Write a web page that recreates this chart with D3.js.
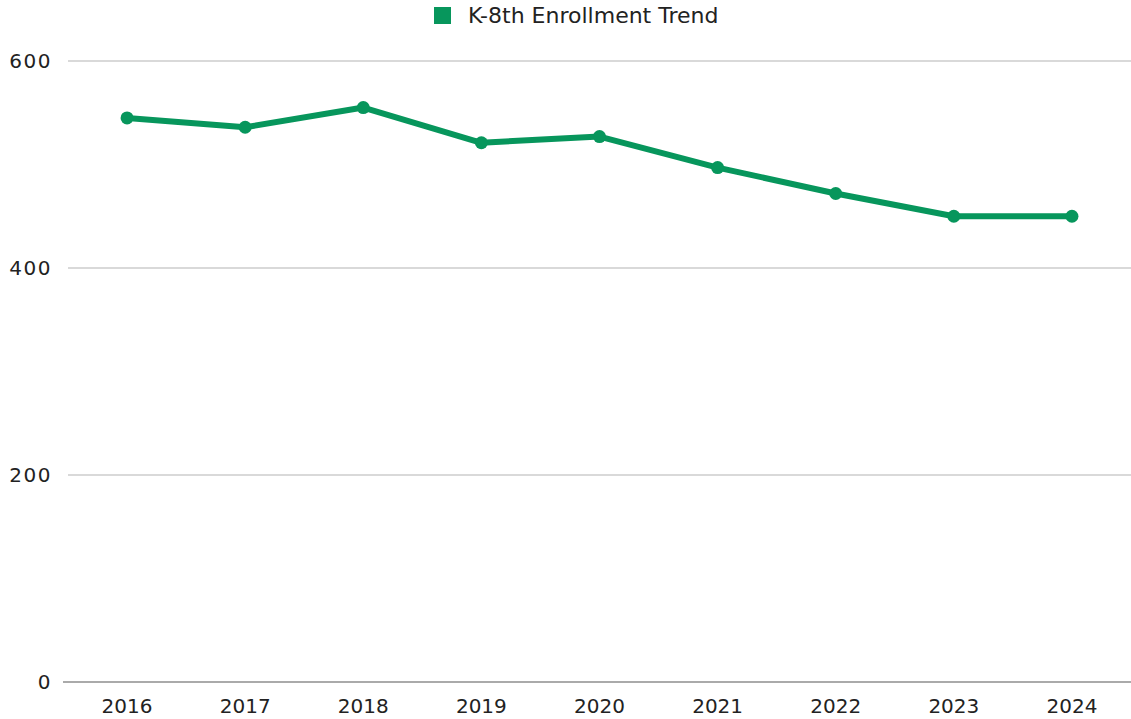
<!DOCTYPE html>
<html>
<head>
<meta charset="utf-8">
<script src="https://cdn.jsdelivr.net/npm/d3@7"></script>
<style>
  body { margin: 0; background: #fff; }
  svg text { font-family: "DejaVu Sans", sans-serif; fill: #222; }
</style>
</head>
<body>
<script>
var years = ['2016', '2017', '2018', '2019', '2020', '2021', '2022', '2023', '2024'];
var enrollment = [545, 536, 555, 521, 527, 497, 472, 450, 450];
var yTicks = [0, 200, 400, 600];
var seriesName = 'K-8th Enrollment Trend';

var width = 1131;
var height = 719;
var color = '#07965c';

var svg = d3.select('body').append('svg').attr('width', width).attr('height', height);

var x = d3.scaleBand().domain(years).range([68, 1131]);
var y = d3.scaleLinear().domain([0, 600]).range([682, 61]);

// gridlines
svg
  .append('g')
  .selectAll('line')
  .data(yTicks)
  .enter()
  .append('line')
  .attr('x1', function (d) {
    return d === 0 ? 63 : 68;
  })
  .attr('x2', width)
  .attr('y1', function (d) {
    return y(d);
  })
  .attr('y2', function (d) {
    return y(d);
  })
  .attr('stroke', function (d) {
    return d === 0 ? '#aaa' : '#d9d9d9';
  })
  .attr('stroke-width', 2);

// y labels
svg
  .append('g')
  .selectAll('text')
  .data(yTicks)
  .enter()
  .append('text')
  .attr('x', 52)
  .attr('y', function (d) {
    return y(d);
  })
  .attr('dy', '0.36em')
  .attr('text-anchor', 'end')
  .style('font-size', '20px')
  .style('letter-spacing', '1.5px')
  .text(function (d) {
    return d;
  });

// x labels
svg
  .append('g')
  .selectAll('text')
  .data(years)
  .enter()
  .append('text')
  .attr('x', function (d) {
    return x(d) + x.bandwidth() / 2;
  })
  .attr('y', 706)
  .attr('dy', '0.36em')
  .attr('text-anchor', 'middle')
  .style('font-size', '20px')
  .text(function (d) {
    return d;
  });

var data = years.map(function (yr, i) {
  return { year: yr, value: enrollment[i] };
});

var line = d3
  .line()
  .x(function (d) {
    return x(d.year) + x.bandwidth() / 2;
  })
  .y(function (d) {
    return y(d.value);
  });

svg
  .append('path')
  .datum(data)
  .attr('d', line)
  .attr('fill', 'none')
  .attr('stroke', color)
  .attr('stroke-width', 6)
  .attr('stroke-linejoin', 'round');

svg
  .append('g')
  .selectAll('circle')
  .data(data)
  .enter()
  .append('circle')
  .attr('cx', function (d) {
    return x(d.year) + x.bandwidth() / 2;
  })
  .attr('cy', function (d) {
    return y(d.value);
  })
  .attr('r', 6.5)
  .attr('fill', color);

// legend
var legend = svg.append('g').attr('transform', 'translate(434, 7)');
legend.append('rect').attr('width', 17).attr('height', 17).attr('fill', color);
legend
  .append('text')
  .attr('x', 34)
  .attr('y', 8.5)
  .attr('dy', '0.36em')
  .style('font-size', '22px')
  .text(seriesName);
</script>
</body>
</html>
